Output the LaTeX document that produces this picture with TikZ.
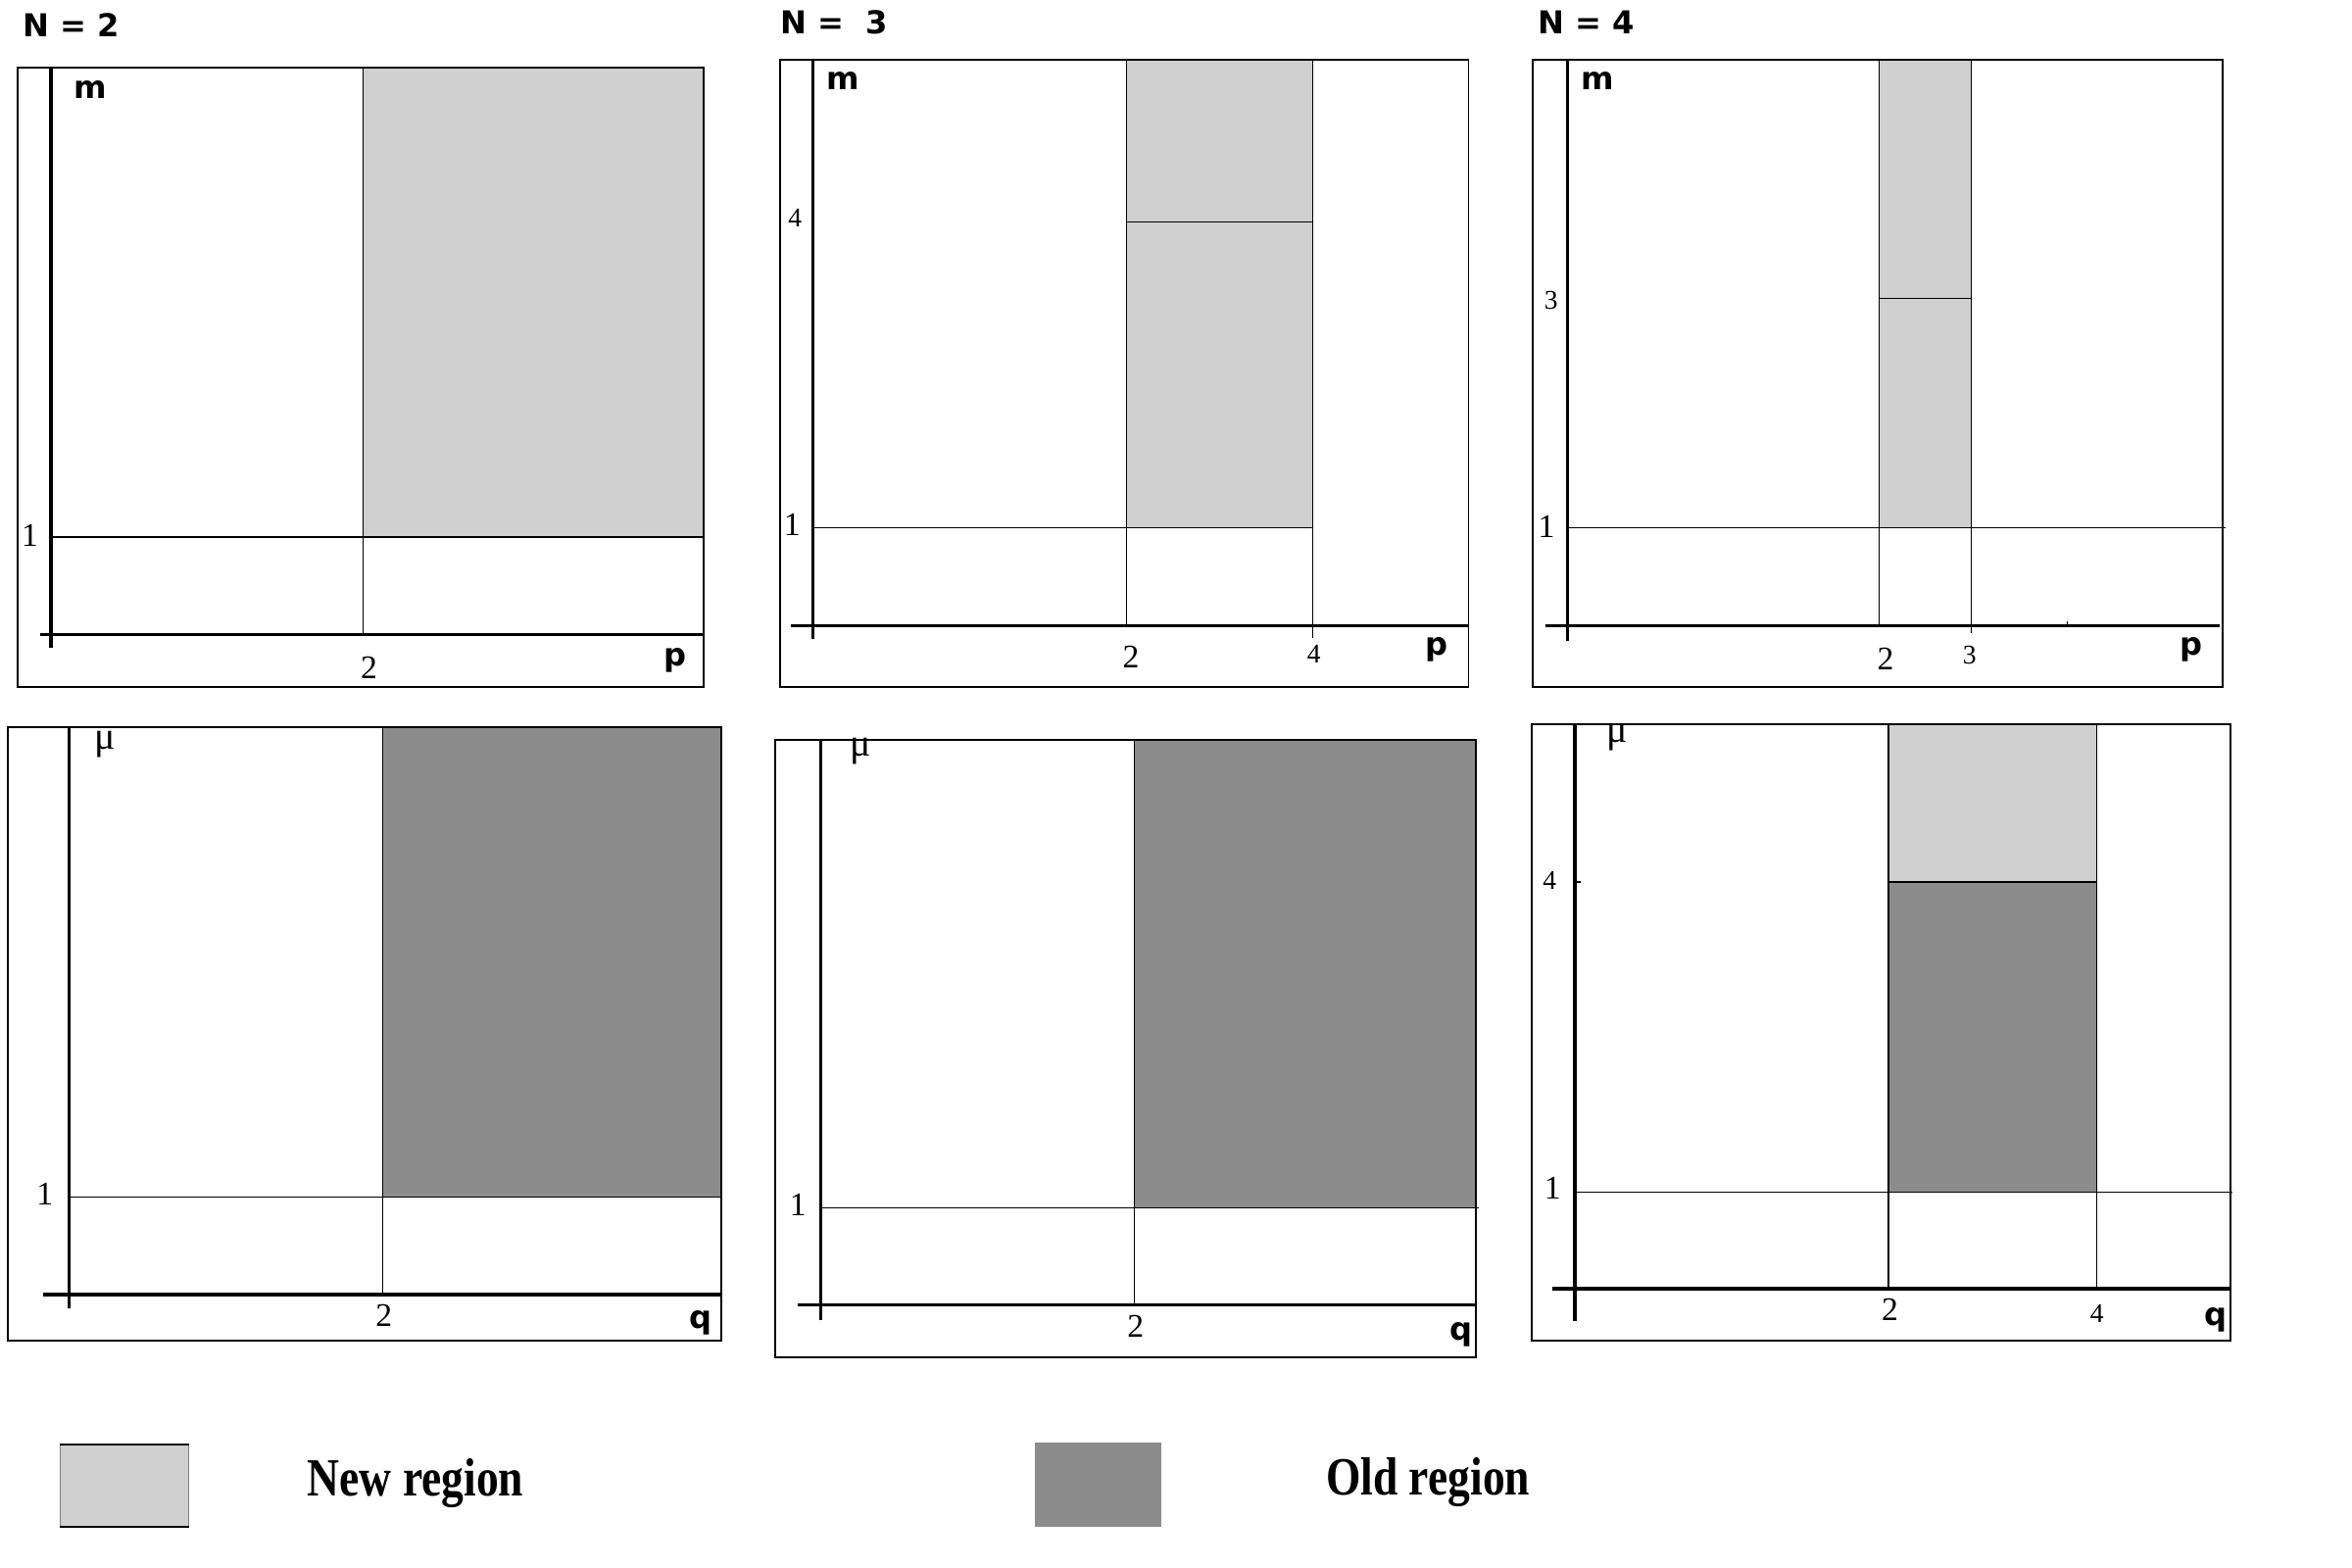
\documentclass[tikz,border=0pt]{standalone}
\usepackage{fontspec}
\usepackage{graphicx}
\setmainfont{Liberation Serif}
\setsansfont{Liberation Sans}
\newfontfamily\heavyfont{DejaVu Sans}
\definecolor{newgray}{RGB}{208,208,208}
\definecolor{oldgray}{RGB}{140,140,140}
\newcommand{\muglyph}{\symbol{"03BC}}
\begin{document}
\begin{tikzpicture}[x=0.5pt,y=-0.5pt,
  frame/.style={draw=black,line width=0.6pt},
  axis/.style={draw=black,line width=1.1pt},
  thinline/.style={draw=black,line width=0.4pt},
  newreg/.style={fill=newgray},
  oldreg/.style={fill=oldgray},
  title/.style={font=\heavyfont\bfseries\fontsize{10.5}{13}\selectfont,anchor=west,inner sep=0pt},
  axlab/.style={font=\heavyfont\bfseries\fontsize{10.5}{13}\selectfont,inner sep=0pt},
  greek/.style={font=\fontsize{13}{15}\selectfont,inner sep=0pt},
  num/.style={font=\fontsize{11}{13}\selectfont,inner sep=0pt},
  numsm/.style={font=\fontsize{9}{11}\selectfont,inner sep=0pt},
  legtext/.style={font=\bfseries\fontsize{16}{18}\selectfont,inner sep=0pt}]
\useasboundingbox (0,0) rectangle (1568,1045);

% ---------- Panel 1: N = 2, (p,m) ----------
\fill[newreg] (242,45) rectangle (469,358);
\draw[frame] (12,45) rectangle (469,458);
\draw[thinline] (34,358) -- (469,358);
\draw[thinline] (242,45) -- (242,423);
\draw[axis] (34,45) -- (34,432);
\draw[axis] (27,423) -- (469,423);
\node[title] (t1) at (15,17) {N = 2};
\node[axlab] (m1) at (60,60) {m};
\node[num] (a1y1) at (20,357) {1};
\node[num] (a1x2) at (246,445) {2};
\node[axlab] (p1) at (450,440) {p};

% ---------- Panel 2: N = 3, (p,m) ----------
\fill[newreg] (751,40) rectangle (875,352);
\draw[frame] (520,40) rectangle (979,458);
\draw[thinline] (542,352) -- (875,352);
\draw[thinline] (751,148) -- (875,148);
\draw[thinline] (751,40) -- (751,417);
\draw[thinline] (875,40) -- (875,425);
\draw[axis] (542,40) -- (542,426);
\draw[axis] (527,417) -- (979,417);
\node[title] (t2) at (520,15) {N =\ \ 3};
\node[axlab] (m2) at (562,54) {m};
\node[numsm] (a2y4) at (530,145) {4};
\node[num] (a2y1) at (528,350) {1};
\node[num] (a2x2) at (754,438) {2};
\node[numsm] (a2x4) at (876,436) {4};
\node[axlab] (p2) at (958,433) {p};

% ---------- Panel 3: N = 4, (p,m) ----------
\fill[newreg] (1253,40) rectangle (1314,352);
\draw[frame] (1022,40) rectangle (1482,458);
\draw[thinline] (1045,352) -- (1484,352);
\draw[thinline] (1253,199) -- (1314,199);
\draw[thinline] (1253,40) -- (1253,417);
\draw[thinline] (1314,40) -- (1314,422);
\draw[axis] (1045,40) -- (1045,427);
\draw[axis] (1030,417) -- (1480,417);
\draw[thinline] (1378,414) -- (1378,417);
\node[title] (t3) at (1025,15) {N = 4};
\node[axlab] (m3) at (1065,54) {m};
\node[numsm] (a3y3) at (1034,200) {3};
\node[num] (a3y1) at (1031,351) {1};
\node[num] (a3x2) at (1257,439) {2};
\node[numsm] (a3x3) at (1313,437) {3};
\node[axlab] (p3) at (1461,433) {p};

% ---------- Panel 4: (q,mu) ----------
\fill[oldreg] (255,485) rectangle (481,798);
\draw[frame] (5,485) rectangle (481,894);
\draw[thinline] (46,798) -- (481,798);
\draw[thinline] (255,485) -- (255,863);
\draw[axis] (46,485) -- (46,872);
\draw[axis] (29,863) -- (481,863);
\node[greek] (mu4) at (70,496) {\muglyph};
\node[num] (a4y1) at (30,796) {1};
\node[num] (a4x2) at (256,877) {2};
\node[axlab] (q4) at (467,882) {q};

% ---------- Panel 5: (q,mu) ----------
\fill[oldreg] (756,493) rectangle (984,805);
\draw[frame] (517,493) rectangle (984,905);
\draw[thinline] (547,805) -- (986,805);
\draw[thinline] (756,493) -- (756,870);
\draw[axis] (547,493) -- (547,880);
\draw[axis] (532,870) -- (984,870);
\node[greek] (mu5) at (574,501) {\muglyph};
\node[num] (a5y1) at (532,803) {1};
\node[num] (a5x2) at (757,884) {2};
\node[axlab] (q5) at (974,890) {q};

% ---------- Panel 6: (q,mu) ----------
\fill[newreg] (1259,483) rectangle (1398,588);
\fill[oldreg] (1259,588) rectangle (1398,795);
\draw[frame] (1021,483) rectangle (1487,894);
\draw[thinline] (1050,795) -- (1488,795);
\draw[thinline] (1259,588) -- (1398,588);
\draw[thinline] (1259,483) -- (1259,859);
\draw[thinline] (1398,483) -- (1398,859);
\draw[thinline] (1050,588) -- (1054,588);
\draw[axis] (1050,483) -- (1050,881);
\draw[axis] (1035,859) -- (1487,859);
\node[greek] (mu6) at (1078,492) {\muglyph};
\node[numsm] (a6y4) at (1033,587) {4};
\node[num] (a6y1) at (1035,792) {1};
\node[num] (a6x2) at (1260,873) {2};
\node[numsm] (a6x4) at (1398,876) {4};
\node[axlab] (q6) at (1477,880) {q};

% ---------- Legend ----------
\fill[newreg] (40,963) rectangle (126,1018);
\draw[line width=0.4pt,draw=gray] (40,963) rectangle (126,1018);
\draw[line width=0.7pt] (40,963) -- (126,963) (40,1018) -- (126,1018);
\node[legtext] (lnew) at (277,989) {\scalebox{0.93}[1.12]{New region}};
\fill[oldreg] (690,962) rectangle (774,1018);
\node[legtext] (lold) at (952,988) {\scalebox{0.93}[1.12]{Old region}};
\end{tikzpicture}
\end{document}
